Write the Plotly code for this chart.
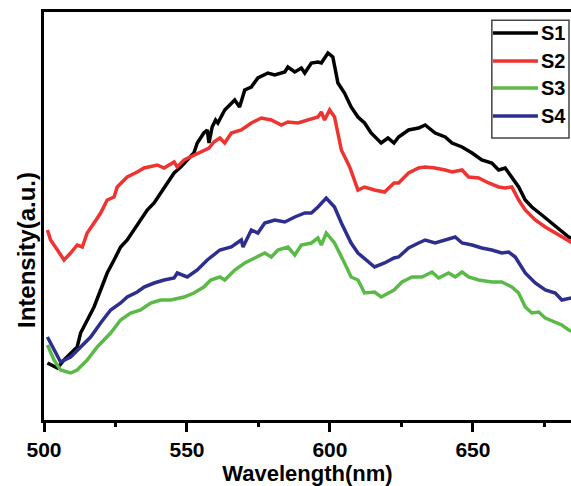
import plotly.graph_objects as go

# ---- data ----
series_names = ["S1", "S2", "S3", "S4"]

s1_wl = [501.2, 504.7, 507.0, 509.3, 511.6, 512.8, 515.1, 517.5, 519.8, 522.1, 524.5, 526.8,
         529.1, 531.5, 533.8, 536.1, 538.5, 540.8, 543.1, 545.5, 547.8, 550.1, 552.4, 553.6,
         555.9, 557.1, 557.7, 558.8, 560.0, 560.8, 563.2, 566.7, 568.4, 570.2, 572.5, 574.8,
         578.3, 580.7, 584.2, 585.3, 587.7, 590.0, 591.2, 593.5, 595.8, 597.0, 599.3, 601.0,
         602.8, 605.1, 607.4, 609.8, 612.1, 614.4, 617.9, 620.3, 622.4, 624.0, 627.5, 631.0,
         633.3, 636.8, 640.3, 642.7, 646.2, 649.7, 653.1, 656.6, 659.0, 661.3, 663.6, 666.0,
         668.3, 670.6, 674.1, 677.6, 681.1, 683.5, 686.0]
s1_int = [57, 52, 60, 67, 73, 87, 100, 113, 130, 147, 160, 173,
          180, 190, 200, 210, 217, 227, 237, 247, 253, 260, 267, 277,
          287, 290, 277, 293, 300, 297, 310, 320, 313, 330, 333, 342,
          347, 345, 348, 353, 348, 352, 347, 357, 358, 357, 367, 363,
          337, 327, 313, 303, 297, 287, 277, 282, 277, 283, 290, 292,
          295, 287, 283, 277, 273, 267, 260, 257, 250, 252, 243, 233,
          220, 213, 205, 197, 188, 183, 180]

s2_wl = [501.2, 502.3, 504.7, 507.0, 509.3, 511.6, 513.4, 515.1, 517.5, 519.8, 522.1, 524.5,
         525.6, 529.1, 532.6, 535.0, 539.6, 542.0, 545.5, 546.6, 549.0, 552.4, 555.9, 557.7,
         559.4, 561.5, 563.2, 565.5, 569.0, 572.5, 576.0, 579.5, 583.0, 585.3, 588.8, 592.3,
         595.8, 597.0, 598.1, 599.9, 601.6, 604.0, 606.9, 609.8, 612.1, 615.6, 619.1, 622.4,
         624.0, 627.5, 631.0, 633.3, 636.8, 640.3, 642.7, 646.2, 648.5, 652.0, 655.5, 659.0,
         661.3, 663.6, 666.0, 668.3, 671.8, 675.3, 678.8, 681.1, 684.3, 686.0]
s2_int = [190, 180, 170, 160, 167, 175, 173, 187, 197, 207, 220, 223,
          233, 243, 248, 252, 255, 252, 258, 253, 260, 265, 270, 272,
          278, 282, 277, 287, 290, 297, 302, 300, 295, 298, 297, 300,
          303, 308, 300, 310, 303, 270, 253, 230, 233, 230, 228, 237,
          237, 247, 252, 253, 252, 250, 248, 250, 243, 242, 237, 233,
          232, 233, 220, 210, 200, 193, 187, 183, 177, 175]

s3_wl = [501.2, 503.5, 505.8, 509.3, 511.6, 515.1, 518.6, 523.3, 526.8, 530.3, 533.8, 537.3,
         540.8, 544.3, 549.0, 552.4, 555.9, 558.3, 561.5, 563.2, 566.7, 570.2, 573.7, 577.2,
         579.5, 581.8, 585.3, 587.7, 590.0, 593.5, 595.8, 597.0, 598.7, 601.6, 605.1, 607.4,
         609.8, 612.1, 615.6, 617.9, 622.4, 625.2, 628.7, 632.2, 635.7, 638.0, 641.5, 643.8,
         646.2, 648.5, 652.0, 656.6, 660.1, 663.6, 666.0, 668.3, 670.6, 673.0, 675.3, 678.8,
         681.1, 683.5, 686.0]
s3_int = [75, 60, 50, 47, 50, 60, 73, 87, 100, 107, 110, 117,
          120, 120, 123, 127, 133, 140, 143, 140, 150, 157, 162, 167,
          163, 170, 173, 165, 175, 177, 182, 175, 187, 177, 157, 143,
          140, 127, 128, 123, 130, 138, 143, 143, 148, 142, 147, 143,
          148, 143, 140, 138, 138, 133, 127, 113, 107, 108, 102, 98,
          95, 90, 87]

s4_wl = [501.2, 504.7, 505.8, 509.3, 512.8, 516.3, 519.8, 523.3, 526.8, 529.1, 532.6, 535.0,
         538.5, 542.0, 545.5, 546.6, 550.1, 553.6, 557.1, 561.5, 565.5, 569.0, 569.6, 572.5,
         574.8, 577.2, 580.7, 584.2, 587.7, 591.2, 593.5, 595.8, 598.7, 601.6, 604.0, 607.4,
         609.8, 612.7, 615.6, 619.1, 622.4, 624.0, 627.5, 631.0, 633.3, 636.8, 640.3, 643.8,
         646.2, 649.7, 653.1, 656.6, 660.1, 662.5, 664.8, 668.3, 671.8, 675.3, 678.8, 681.1,
         684.3, 686.0]
s4_int = [83, 63, 58, 63, 73, 83, 97, 110, 117, 123, 128, 133,
          137, 140, 142, 147, 143, 150, 160, 170, 173, 180, 173, 190,
          187, 197, 200, 198, 203, 207, 207, 213, 222, 213, 197, 177,
          167, 160, 153, 157, 162, 163, 172, 177, 180, 177, 180, 183,
          177, 175, 172, 170, 167, 168, 163, 147, 137, 130, 127, 120,
          122, 120]

x_ticks = [500, 550, 600, 650]

colors = ["#000000", "#ee3330", "#5bb947", "#2e2e8e"]
FONT = "Liberation Sans, Arial, sans-serif"

fig = go.Figure()
all_wl = [s1_wl, s2_wl, s3_wl, s4_wl]
all_int = [s1_int, s2_int, s3_int, s4_int]
for name, wl, it, c in zip(series_names, all_wl, all_int, colors):
    fig.add_trace(go.Scatter(x=wl, y=it, mode="lines", name=name,
                             line=dict(color=c, width=3.5), showlegend=False))

# manual legend (box, sample lines, labels)
fig.add_shape(type="rect", xref="paper", yref="paper", x0=0.8498, x1=0.9962, y0=0.691, y1=0.980,
              line=dict(color="#444444", width=1.5), fillcolor="white", layer="above")
legend_y = [0.9485, 0.8799, 0.8137, 0.7451]
for name, c, ly in zip(series_names, colors, legend_y):
    fig.add_shape(type="line", xref="paper", yref="paper", x0=0.8517, x1=0.9373, y0=ly, y1=ly,
                  line=dict(color=c, width=3.5), layer="above")
    fig.add_annotation(xref="paper", yref="paper", x=0.939, y=ly, text="<b>%s</b>" % name,
                       showarrow=False, xanchor="left", yanchor="middle",
                       font=dict(family=FONT, size=20, color="black"))

# y-axis title (placed slightly below centre, as in the reference)
fig.add_annotation(xref="paper", yref="paper", x=-0.032, y=0.417, text="<b>Intensity(a.u.)</b>",
                   textangle=-90, showarrow=False, xanchor="center", yanchor="middle",
                   font=dict(family=FONT, size=24, color="black"))

fig.update_layout(
    width=571, height=486,
    margin=dict(l=44, r=0, t=12, b=66),
    plot_bgcolor="white", paper_bgcolor="white",
    font=dict(family=FONT, color="black"),
    xaxis=dict(
        range=[500, 684.3], tickmode="array", tickvals=x_ticks,
        ticktext=["<b>%d</b>" % v for v in x_ticks],
        tickfont=dict(size=21, family=FONT),
        ticks="outside", ticklen=9, tickwidth=2.5, tickcolor="black",
        minor=dict(ticks="outside", ticklen=4, tickwidth=2.5, tickcolor="black", dtick=25),
        showline=True, linewidth=3, linecolor="black", mirror=True,
        showgrid=False, zeroline=False,
        title=dict(text="<b>Wavelength(nm)</b>", font=dict(size=22, family=FONT), standoff=7),
    ),
    yaxis=dict(
        range=[0, 408], showticklabels=False, ticks="",
        showline=True, linewidth=3, linecolor="black", mirror=False,
        showgrid=False, zeroline=False,
    ),
)

fig.write_html("out.html", config={"displayModeBar": False},
               post_script="document.body.style.margin='0';")
